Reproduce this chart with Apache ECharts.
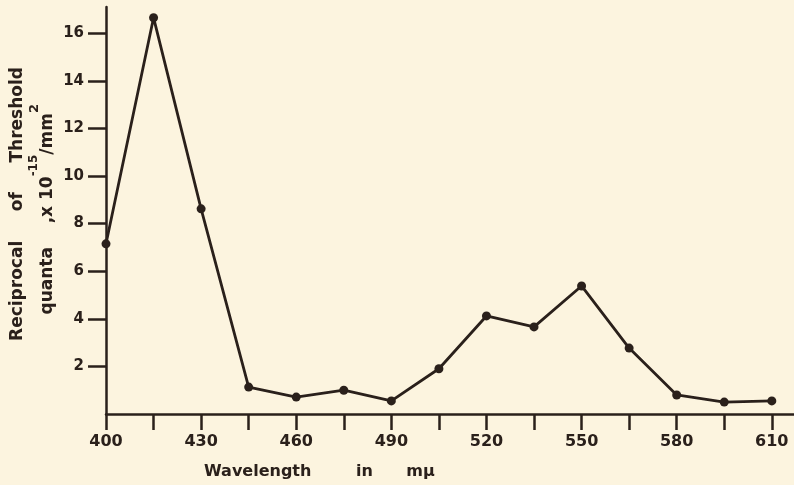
<!DOCTYPE html>
<html>
<head>
<meta charset="utf-8">
<script src="https://cdn.jsdelivr.net/npm/echarts@6/dist/echarts.min.js"></script>
<style>
html,body{margin:0;padding:0;background:#fcf4df;}
#c{width:794px;height:485px;}
</style>
</head>
<body>
<div id="c"></div>
<script>
var wavelengths = [400, 415, 430, 445, 460, 475, 490, 505, 520, 535, 550, 565, 580, 595, 610];
var reciprocalThreshold = [7.15, 16.65, 8.62, 1.13, 0.71, 1.0, 0.55, 1.9, 4.12, 3.66, 5.38, 2.77, 0.8, 0.5, 0.55];
var xTickValues = [400, 415, 430, 445, 460, 475, 490, 505, 520, 535, 550, 565, 580, 595, 610];
var xLabelValues = [400, 430, 460, 490, 520, 550, 580, 610];
var yTickValues = [2, 4, 6, 8, 10, 12, 14, 16];
var xTitle = 'Wavelength        in      m\u03bc';
var yTitle1 = 'Reciprocal     of     Threshold';
var yTitle2Parts = ['quanta    ,x 10', '-15', '/mm', '2'];

var ink = '#2a201b';
var fam = '"DejaVu Sans", sans-serif';

var chart = echarts.init(document.getElementById('c'));
var data = wavelengths.map(function (v, i) { return [v, reciprocalThreshold[i]]; });

chart.setOption({
  backgroundColor: '#fcf4df',
  animation: false,
  grid: { left: 106, right: 0, top: 7, bottom: 71 },
  xAxis: {
    type: 'value', min: 400, max: 617,
    axisLine: { show: true, lineStyle: { color: ink, width: 2.5 } },
    axisTick: { show: true, length: 16, inside: false, customValues: xTickValues, lineStyle: { color: ink, width: 2.5 } },
    axisLabel: { customValues: xLabelValues, color: ink, fontFamily: fam, fontWeight: 'bold', fontSize: 16, margin: 20 },
    splitLine: { show: false }
  },
  yAxis: {
    type: 'value', min: 0, max: 17.1,
    axisLine: { show: true, lineStyle: { color: ink, width: 2.5 } },
    axisTick: { show: true, length: 18, customValues: yTickValues, lineStyle: { color: ink, width: 2.5 } },
    axisLabel: { customValues: yTickValues, color: ink, fontFamily: fam, fontWeight: 'bold', fontSize: 15, margin: 22 },
    splitLine: { show: false }
  },
  graphic: [
    {
      type: 'text', x: 204, y: 472,
      style: { text: xTitle, fill: ink, font: 'bold 16px ' + fam, textVerticalAlign: 'middle' }
    },
    {
      type: 'text', x: 18, y: 67, rotation: Math.PI / 2,
      style: { text: yTitle1, fill: ink, font: 'bold 17px ' + fam, textAlign: 'right', textVerticalAlign: 'middle' }
    },
    {
      type: 'text', x: 42, y: 104, rotation: Math.PI / 2,
      style: {
        text: '{a|' + yTitle2Parts[0] + '}{s|' + yTitle2Parts[1] + '}{a|' + yTitle2Parts[2] + '}{t|' + yTitle2Parts[3] + '}',
        textAlign: 'right', textVerticalAlign: 'middle',
        rich: {
          a: { fill: ink, fontFamily: fam, fontWeight: 'bold', fontSize: 17, lineHeight: 28, verticalAlign: 'bottom' },
          s: { fill: ink, fontFamily: fam, fontWeight: 'bold', fontSize: 12, lineHeight: 28, verticalAlign: 'top' },
          t: { fill: ink, fontFamily: fam, fontWeight: 'bold', fontSize: 13, lineHeight: 28, verticalAlign: 'top' }
        }
      }
    }
  ],
  series: [{
    type: 'line',
    data: data,
    symbol: 'circle', symbolSize: 9,
    itemStyle: { color: ink },
    lineStyle: { color: ink, width: 2.8 }
  }]
});
</script>
</body>
</html>
